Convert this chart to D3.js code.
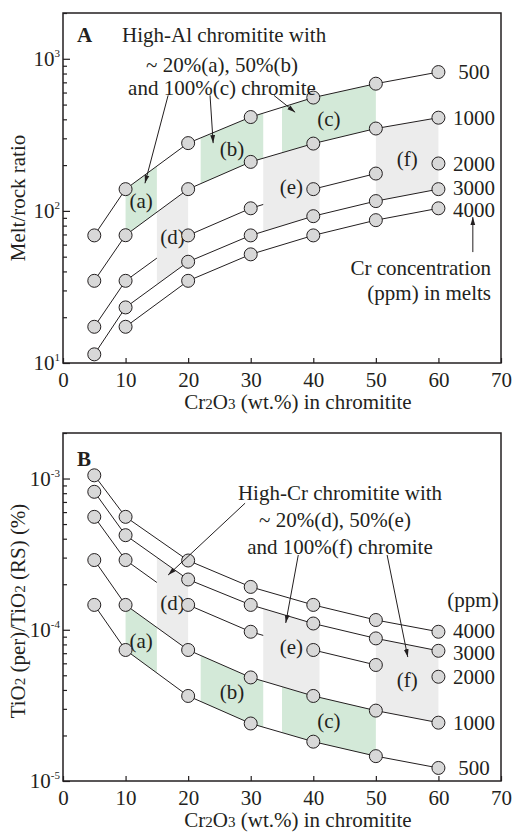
<!DOCTYPE html>
<html>
<head>
<meta charset="utf-8">
<script src="https://cdn.jsdelivr.net/npm/d3@7"></script>
<style>
  body { margin: 0; background: #fff; }
  text { font-family: "Liberation Serif", "Times New Roman", serif; fill: #231f20; }
</style>
</head>
<body>
<script>
// x values: Cr2O3 (wt.%) in chromitite
var cr2o3 = [5, 10, 20, 30, 40, 50, 60];
// Cr concentration in melts (ppm), one curve each
var crPpm = [500, 1000, 2000, 3000, 4000];

// panel A: melt/rock ratio
var meltRock500  = [69, 139, 279, 414, 556, 686, 818];
var meltRock1000 = [34.7, 69.2, 139, 210, 277, 348, 410];
var meltRock2000 = [17.3, 34.7, 69, 104, 139, 176, 205];
var meltRock3000 = [11.4, 23.2, 46.3, 69, 92.3, 116, 139];
var meltRock4000 = [null, 17.3, 34.7, 51.8, 69, 86.9, 104];

// panel B: TiO2 (per)/TiO2 (RS) (%)
var tio2Ratio500  = [1.46e-4, 7.35e-5, 3.65e-5, 2.40e-5, 1.82e-5, 1.46e-5, 1.22e-5];
var tio2Ratio1000 = [2.89e-4, 1.46e-4, 7.35e-5, 4.84e-5, 3.65e-5, 2.92e-5, 2.43e-5];
var tio2Ratio2000 = [5.58e-4, 2.89e-4, 1.46e-4, 9.7e-5, 7.35e-5, 5.85e-5, 4.89e-5];
var tio2Ratio3000 = [8.17e-4, 4.22e-4, 2.15e-4, 1.46e-4, 1.10e-4, 8.77e-5, 7.26e-5];
var tio2Ratio4000 = [1.05e-3, 5.58e-4, 2.87e-4, 1.92e-4, 1.46e-4, 1.16e-4, 9.7e-5];

// shaded chromite bands: a-c high-Al (green), d-f high-Cr (grey)
var bandNames  = ['(a)', '(b)', '(c)', '(d)', '(e)', '(f)'];
var bandRanges = [[10, 15], [22, 32], [35, 50], [15, 20], [32, 41], [50, 60]];
var meltRockBandLabelY = [117, 257, 404, 67.5, 144, 221];
var tio2BandLabelY     = [8.45e-5, 3.89e-5, 2.49e-5, 1.51e-4, 7.73e-5, 4.66e-5];

var xTicks = [0, 10, 20, 30, 40, 50, 60, 70];

var W = 514, H = 832;
var left = 63, right = 501;
var ink = '#231f20';
var fs = 21;

var svg = d3.select('body').append('svg')
  .attr('width', W)
  .attr('height', H);

var defs = svg.append('defs');
defs.append('marker')
  .attr('id', 'arrow')
  .attr('markerUnits', 'userSpaceOnUse')
  .attr('markerWidth', 9).attr('markerHeight', 6)
  .attr('refX', 8).attr('refY', 3)
  .attr('orient', 'auto')
  .append('path')
  .attr('d', 'M0,0.6 L8,3 L0,5.4 Z')
  .attr('fill', ink);

var x = d3.scaleLinear().domain([0, 70]).range([left, right]);

// value on a series at any x, straight in log space like the drawn lines
function valueAt(vals, xv) {
  for (var i = 0; i < cr2o3.length - 1; i++) {
    if (xv >= cr2o3[i] && xv <= cr2o3[i + 1] && vals[i] != null) {
      var t = (xv - cr2o3[i]) / (cr2o3[i + 1] - cr2o3[i]);
      return Math.pow(10, Math.log10(vals[i]) + t * (Math.log10(vals[i + 1]) - Math.log10(vals[i])));
    }
  }
  return null;
}

function drawPanel(p) {
  var y = d3.scaleLog().domain(p.domain).range([p.bottom, p.top]);
  var g = svg.append('g');

  // bands
  bandRanges.forEach(function(r, i) {
    var pair = i < 3 ? p.greenPair : p.greyPair;
    var xs = [r[0]].concat(cr2o3.filter(function(v) { return v > r[0] && v < r[1]; }), [r[1]]);
    var upper = xs.map(function(v) { return [x(v), y(valueAt(p.series[pair[0]], v))]; });
    var lower = xs.slice().reverse().map(function(v) { return [x(v), y(valueAt(p.series[pair[1]], v))]; });
    g.append('path')
      .attr('d', d3.line()(upper.concat(lower)) + 'Z')
      .attr('fill', i < 3 ? '#d3e9d8' : '#ececec');
  });

  // the 2000 ppm curve runs under the grey bands
  var greyRanges = bandRanges.slice(3).sort(function(a, b) { return a[0] - b[0]; });
  var clipId = 'gap' + p.name;
  var clip = defs.append('clipPath').attr('id', clipId);
  var start = 0;
  greyRanges.concat([[70, 70]]).forEach(function(r) {
    clip.append('rect')
      .attr('x', x(start)).attr('width', x(r[0]) - x(start))
      .attr('y', p.top).attr('height', p.bottom - p.top);
    start = r[1];
  });

  var line = d3.line()
    .defined(function(d) { return d[1] != null; })
    .x(function(d) { return x(d[0]); })
    .y(function(d) { return y(d[1]); });

  p.series.forEach(function(vals, k) {
    g.append('path')
      .attr('d', line(cr2o3.map(function(c, i) { return [c, vals[i]]; })))
      .attr('fill', 'none')
      .attr('stroke', ink)
      .attr('stroke-width', 1)
      .attr('clip-path', crPpm[k] === 2000 ? 'url(#' + clipId + ')' : null);
  });

  // band labels
  bandNames.forEach(function(n, i) {
    g.append('text')
      .attr('x', x((bandRanges[i][0] + bandRanges[i][1]) / 2))
      .attr('y', y(p.labelY[i]))
      .attr('dy', '0.35em')
      .attr('text-anchor', 'middle')
      .attr('font-size', fs)
      .text(n);
  });

  // points
  p.series.forEach(function(vals) {
    g.selectAll(null)
      .data(cr2o3.map(function(c, i) { return [c, vals[i]]; }).filter(function(d) { return d[1] != null; }))
      .enter().append('circle')
      .attr('cx', function(d) { return x(d[0]); })
      .attr('cy', function(d) { return y(d[1]); })
      .attr('r', 6.5)
      .attr('fill', '#d8d8d8')
      .attr('stroke', ink)
      .attr('stroke-width', 1);
  });

  // series labels at right, pushed apart a little where they crowd
  var labs = p.series.map(function(vals, k) {
    return { text: crPpm[k], y: y(vals[vals.length - 1]) };
  }).sort(function(a, b) { return a.y - b.y; });
  for (var i = 1; i < labs.length; i++) {
    var gap = labs[i].y - labs[i - 1].y;
    if (gap < 22) {
      labs[i - 1].y -= (22 - gap) / 2;
      labs[i].y += (22 - gap) / 2;
    }
  }
  labs.forEach(function(l) {
    g.append('text')
      .attr('x', 474)
      .attr('y', l.y)
      .attr('dy', '0.35em')
      .attr('text-anchor', 'middle')
      .attr('font-size', fs)
      .text(l.text);
  });

  // axes: ticks point inward
  var lo = Math.floor(Math.log10(p.domain[0])), hi = Math.ceil(Math.log10(p.domain[1]));
  var major = d3.range(lo, hi).map(function(e) { return Math.pow(10, e); });
  var minor = [];
  d3.range(lo, hi).forEach(function(e) {
    d3.range(2, 10).forEach(function(m) {
      var v = m * Math.pow(10, e);
      if (v <= p.domain[1]) minor.push(v);
    });
  });

  var yMinor = g.append('g').attr('transform', 'translate(' + left + ',0)')
    .call(d3.axisLeft(y).tickValues(minor).tickSize(-4).tickFormat(''));
  var yMajor = g.append('g').attr('transform', 'translate(' + left + ',0)')
    .call(d3.axisLeft(y).tickValues(major).tickSize(-7).tickFormat(''));
  var xAxis = g.append('g').attr('transform', 'translate(0,' + p.bottom + ')')
    .call(d3.axisBottom(x).tickValues(xTicks).tickSize(-5).tickPadding(9));
  [yMinor, yMajor, xAxis].forEach(function(a) {
    a.select('.domain').remove();
    a.selectAll('line').attr('stroke', ink).attr('stroke-width', 1.2);
  });
  xAxis.selectAll('text')
    .attr('font-size', fs)
    .attr('fill', ink);

  major.forEach(function(v) {
    var t = g.append('text')
      .attr('x', 60)
      .attr('y', y(v) + 7)
      .attr('text-anchor', 'end')
      .attr('font-size', fs);
    t.append('tspan').text('10');
    t.append('tspan').attr('dy', -9).attr('font-size', 11).text(Math.round(Math.log10(v)));
  });

  // frame
  g.append('rect')
    .attr('x', left).attr('y', p.top)
    .attr('width', right - left).attr('height', p.bottom - p.top)
    .attr('fill', 'none')
    .attr('stroke', ink)
    .attr('stroke-width', 1.5);

  // x title
  var xt = g.append('text')
    .attr('x', 298)
    .attr('y', p.bottom + 46)
    .attr('text-anchor', 'middle')
    .attr('font-size', fs);
  xt.append('tspan').text('Cr');
  xt.append('tspan').attr('font-size', 15).text('2');
  xt.append('tspan').text('O');
  xt.append('tspan').attr('font-size', 15).text('3');
  xt.append('tspan').text(' (wt.%) in chromitite');

  // y title
  var yt = g.append('text')
    .attr('transform', 'translate(25,' + p.titleY + ') rotate(-90)')
    .attr('text-anchor', 'middle')
    .attr('font-size', fs);
  p.yTitle.forEach(function(part) {
    yt.append('tspan').attr('font-size', part[1] ? 15 : null).text(part[0]);
  });

  // panel letter
  g.append('text')
    .attr('x', 77)
    .attr('y', p.top + p.letterDy)
    .attr('font-size', fs)
    .attr('font-weight', 'bold')
    .text(p.name);

  // annotation text
  p.notes.forEach(function(n) {
    g.append('text')
      .attr('x', n[0]).attr('y', n[1])
      .attr('dy', '0.35em')
      .attr('text-anchor', n[2])
      .attr('font-size', fs)
      .text(n[3]);
  });

  // annotation arrows (data coordinates)
  p.arrows.forEach(function(a) {
    g.append('line')
      .attr('x1', x(a[0])).attr('y1', y(a[1]))
      .attr('x2', x(a[2])).attr('y2', y(a[3]))
      .attr('stroke', ink)
      .attr('stroke-width', 1)
      .attr('marker-end', 'url(#arrow)');
  });
}

drawPanel({
  name: 'A',
  top: 13, bottom: 363,
  domain: [10, 2000],
  series: [meltRock500, meltRock1000, meltRock2000, meltRock3000, meltRock4000],
  greenPair: [0, 1],
  greyPair: [1, 3],
  labelY: meltRockBandLabelY,
  titleY: 198,
  yTitle: [['Melt/rock ratio']],
  letterDy: 29,
  notes: [
    [122, 35, 'start', 'High-Al chromitite with'],
    [222, 65, 'middle', '~ 20%(a), 50%(b)'],
    [222, 88, 'middle', 'and 100%(c) chromite'],
    [491, 268, 'end', 'Cr concentration'],
    [491, 293, 'end', '(ppm) in melts']
  ],
  arrows: [
    [16.8, 575, 13.1, 152],
    [23.5, 575, 24.0, 279],
    [33.7, 575, 37.1, 445],
    [65.5, 53.6, 65.5, 91]
  ]
});

drawPanel({
  name: 'B',
  top: 433, bottom: 781,
  domain: [1e-5, 2e-3],
  series: [tio2Ratio500, tio2Ratio1000, tio2Ratio2000, tio2Ratio3000, tio2Ratio4000],
  greenPair: [1, 0],
  greyPair: [3, 1],
  labelY: tio2BandLabelY,
  titleY: 611,
  yTitle: [['TiO'], ['2', true], [' (per)/TiO'], ['2', true], [' (RS) (%)']],
  letterDy: 33,
  notes: [
    [340, 493, 'middle', 'High-Cr chromitite with'],
    [335, 520, 'middle', '~ 20%(d), 50%(e)'],
    [340, 547, 'middle', 'and 100%(f) chromite'],
    [473, 600, 'middle', '(ppm)']
  ],
  arrows: [
    [29.1, 6.87e-4, 16.8, 2.30e-4],
    [37.6, 3.12e-4, 35.6, 1.11e-4],
    [51.8, 3.12e-4, 55.1, 6.6e-5]
  ]
});
</script>
</body>
</html>
